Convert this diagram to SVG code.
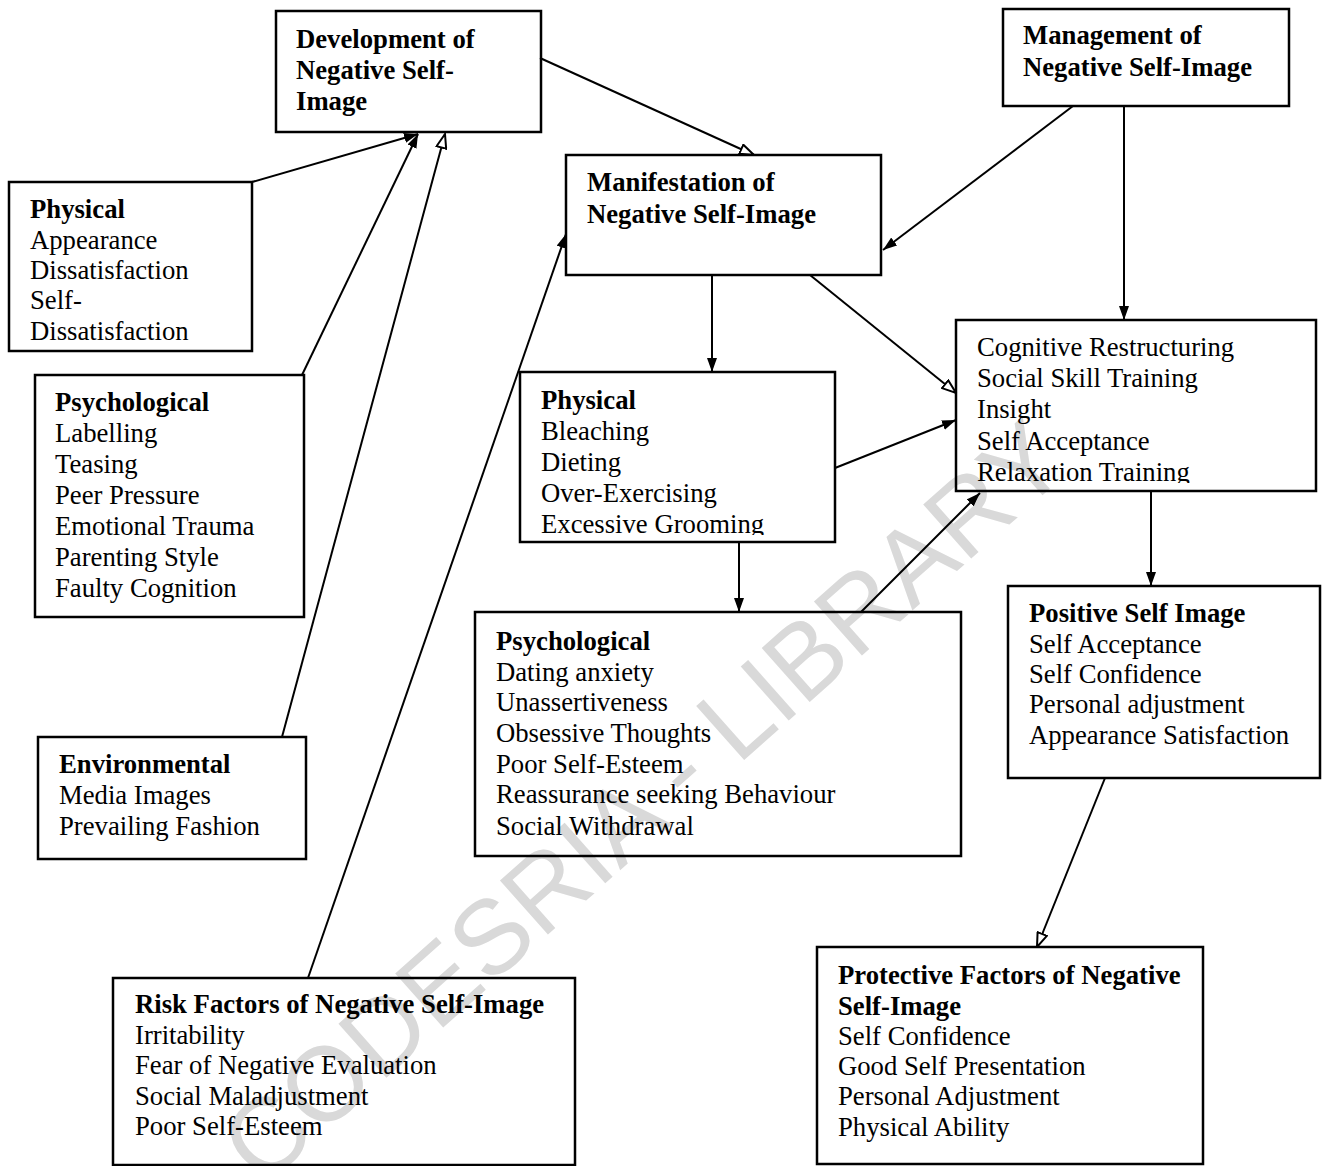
<svg xmlns="http://www.w3.org/2000/svg" width="1325" height="1166" viewBox="0 0 1325 1166">
<style>
.box{fill:none;stroke:#000;stroke-width:2.5}
text{font-family:"Liberation Serif","Times New Roman",serif;font-size:26.7px;fill:#000}
.b{font-weight:bold}
.wm{font-family:"Liberation Sans",Arial,sans-serif;font-size:105px;fill:#d9d9d9}
.c{fill:none;stroke:#000;stroke-width:2}
</style>
<defs>
<marker id="af" viewBox="0 0 14 10" refX="14" refY="5" markerWidth="14" markerHeight="10" markerUnits="userSpaceOnUse" orient="auto"><path d="M0,0 L14,5 L0,10 Z" fill="#000"/></marker>
<marker id="ao" viewBox="0 0 16 12" refX="15" refY="6" markerWidth="16" markerHeight="12" markerUnits="userSpaceOnUse" orient="auto"><path d="M1,1 L15,6 L1,11 Z" fill="#fff" stroke="#000" stroke-width="2"/></marker>
<clipPath id="clipPhys"><rect x="520" y="372" width="315" height="163"/></clipPath>
<clipPath id="clipTech"><rect x="956" y="320" width="360" height="163"/></clipPath>
</defs>
<rect width="1325" height="1166" fill="#fff"/>
<g id="watermark" transform="translate(642,800) rotate(-41.6)"><text class="wm" x="0" y="38" text-anchor="middle">CODESRIA - LIBRARY</text></g>

<g id="connectors">
<line class="c" x1="252" y1="182" x2="418" y2="134" marker-end="url(#af)"/>
<line class="c" x1="302" y1="375" x2="418" y2="134" marker-end="url(#af)"/>
<line class="c" x1="282" y1="737" x2="445" y2="134" marker-end="url(#ao)"/>
<line class="c" x1="308" y1="978" x2="566" y2="234" marker-end="url(#af)"/>
<line class="c" x1="540" y1="58" x2="754" y2="155" marker-end="url(#ao)"/>
<line class="c" x1="1073" y1="106" x2="883" y2="250" marker-end="url(#af)"/>
<line class="c" x1="1124" y1="106" x2="1124" y2="320" marker-end="url(#af)"/>
<line class="c" x1="810" y1="275" x2="956" y2="393" marker-end="url(#ao)"/>
<line class="c" x1="712" y1="275" x2="712" y2="372" marker-end="url(#af)"/>
<line class="c" x1="835" y1="468" x2="956" y2="420" marker-end="url(#af)"/>
<line class="c" x1="739" y1="542" x2="739" y2="612" marker-end="url(#af)"/>
<line class="c" x1="861" y1="612" x2="980" y2="493" marker-end="url(#af)"/>
<line class="c" x1="1151" y1="491" x2="1151" y2="586" marker-end="url(#af)"/>
<line class="c" x1="1105" y1="778" x2="1037" y2="947" marker-end="url(#ao)"/>
</g>

<g id="development">
<rect class="box" x="276" y="11" width="265" height="121"/>
<text class="b" x="296" y="48">Development of</text>
<text class="b" x="296" y="79">Negative Self-</text>
<text class="b" x="296" y="110">Image</text>
</g>

<g id="management">
<rect class="box" x="1003" y="9" width="286" height="97"/>
<text class="b" x="1023" y="44">Management of</text>
<text class="b" x="1023" y="76">Negative Self-Image</text>
</g>

<g id="manifestation">
<rect class="box" x="566" y="155" width="315" height="120"/>
<text class="b" x="587" y="191">Manifestation of</text>
<text class="b" x="587" y="223">Negative Self-Image</text>
</g>

<g id="physical-dev">
<rect class="box" x="9" y="182" width="243" height="169"/>
<text class="b" x="30" y="218">Physical</text>
<text x="30" y="249">Appearance</text>
<text x="30" y="279">Dissatisfaction</text>
<text x="30" y="309">Self-</text>
<text x="30" y="340">Dissatisfaction</text>
</g>

<g id="psychological-dev">
<rect class="box" x="35" y="375" width="269" height="242"/>
<text class="b" x="55" y="411">Psychological</text>
<text x="55" y="442">Labelling</text>
<text x="55" y="473">Teasing</text>
<text x="55" y="504">Peer Pressure</text>
<text x="55" y="535">Emotional Trauma</text>
<text x="55" y="566">Parenting Style</text>
<text x="55" y="597">Faulty Cognition</text>
</g>

<g id="environmental">
<rect class="box" x="38" y="737" width="268" height="122"/>
<text class="b" x="59" y="773">Environmental</text>
<text x="59" y="804">Media Images</text>
<text x="59" y="835">Prevailing Fashion</text>
</g>

<g id="risk-factors">
<rect class="box" x="113" y="978" width="462" height="187"/>
<text class="b" x="135" y="1013">Risk Factors of Negative Self-Image</text>
<text x="135" y="1044">Irritability</text>
<text x="135" y="1074">Fear of Negative Evaluation</text>
<text x="135" y="1105">Social Maladjustment</text>
<text x="135" y="1135">Poor Self-Esteem</text>
</g>

<g id="physical-man">
<rect class="box" x="520" y="372" width="315" height="170"/>
<g clip-path="url(#clipPhys)">
<text class="b" x="541" y="409">Physical</text>
<text x="541" y="440">Bleaching</text>
<text x="541" y="471">Dieting</text>
<text x="541" y="502">Over-Exercising</text>
<text x="541" y="533">Excessive Grooming</text>
</g>
</g>

<g id="psychological-man">
<rect class="box" x="475" y="612" width="486" height="244"/>
<text class="b" x="496" y="650">Psychological</text>
<text x="496" y="681">Dating anxiety</text>
<text x="496" y="711">Unassertiveness</text>
<text x="496" y="742">Obsessive Thoughts</text>
<text x="496" y="773">Poor Self-Esteem</text>
<text x="496" y="803">Reassurance seeking Behaviour</text>
<text x="496" y="835">Social Withdrawal</text>
</g>

<g id="techniques">
<rect class="box" x="956" y="320" width="360" height="171"/>
<g clip-path="url(#clipTech)">
<text x="977" y="356">Cognitive Restructuring</text>
<text x="977" y="387">Social Skill Training</text>
<text x="977" y="418">Insight</text>
<text x="977" y="450">Self Acceptance</text>
<text x="977" y="481">Relaxation Training</text>
</g>
</g>

<g id="positive">
<rect class="box" x="1008" y="586" width="312" height="192"/>
<text class="b" x="1029" y="622">Positive Self Image</text>
<text x="1029" y="653">Self Acceptance</text>
<text x="1029" y="683">Self Confidence</text>
<text x="1029" y="713">Personal adjustment</text>
<text x="1029" y="744">Appearance Satisfaction</text>
</g>

<g id="protective">
<rect class="box" x="817" y="947" width="386" height="217"/>
<text class="b" x="838" y="984">Protective Factors of Negative</text>
<text class="b" x="838" y="1015">Self-Image</text>
<text x="838" y="1045">Self Confidence</text>
<text x="838" y="1075">Good Self Presentation</text>
<text x="838" y="1105">Personal Adjustment</text>
<text x="838" y="1136">Physical Ability</text>
</g>
</svg>
